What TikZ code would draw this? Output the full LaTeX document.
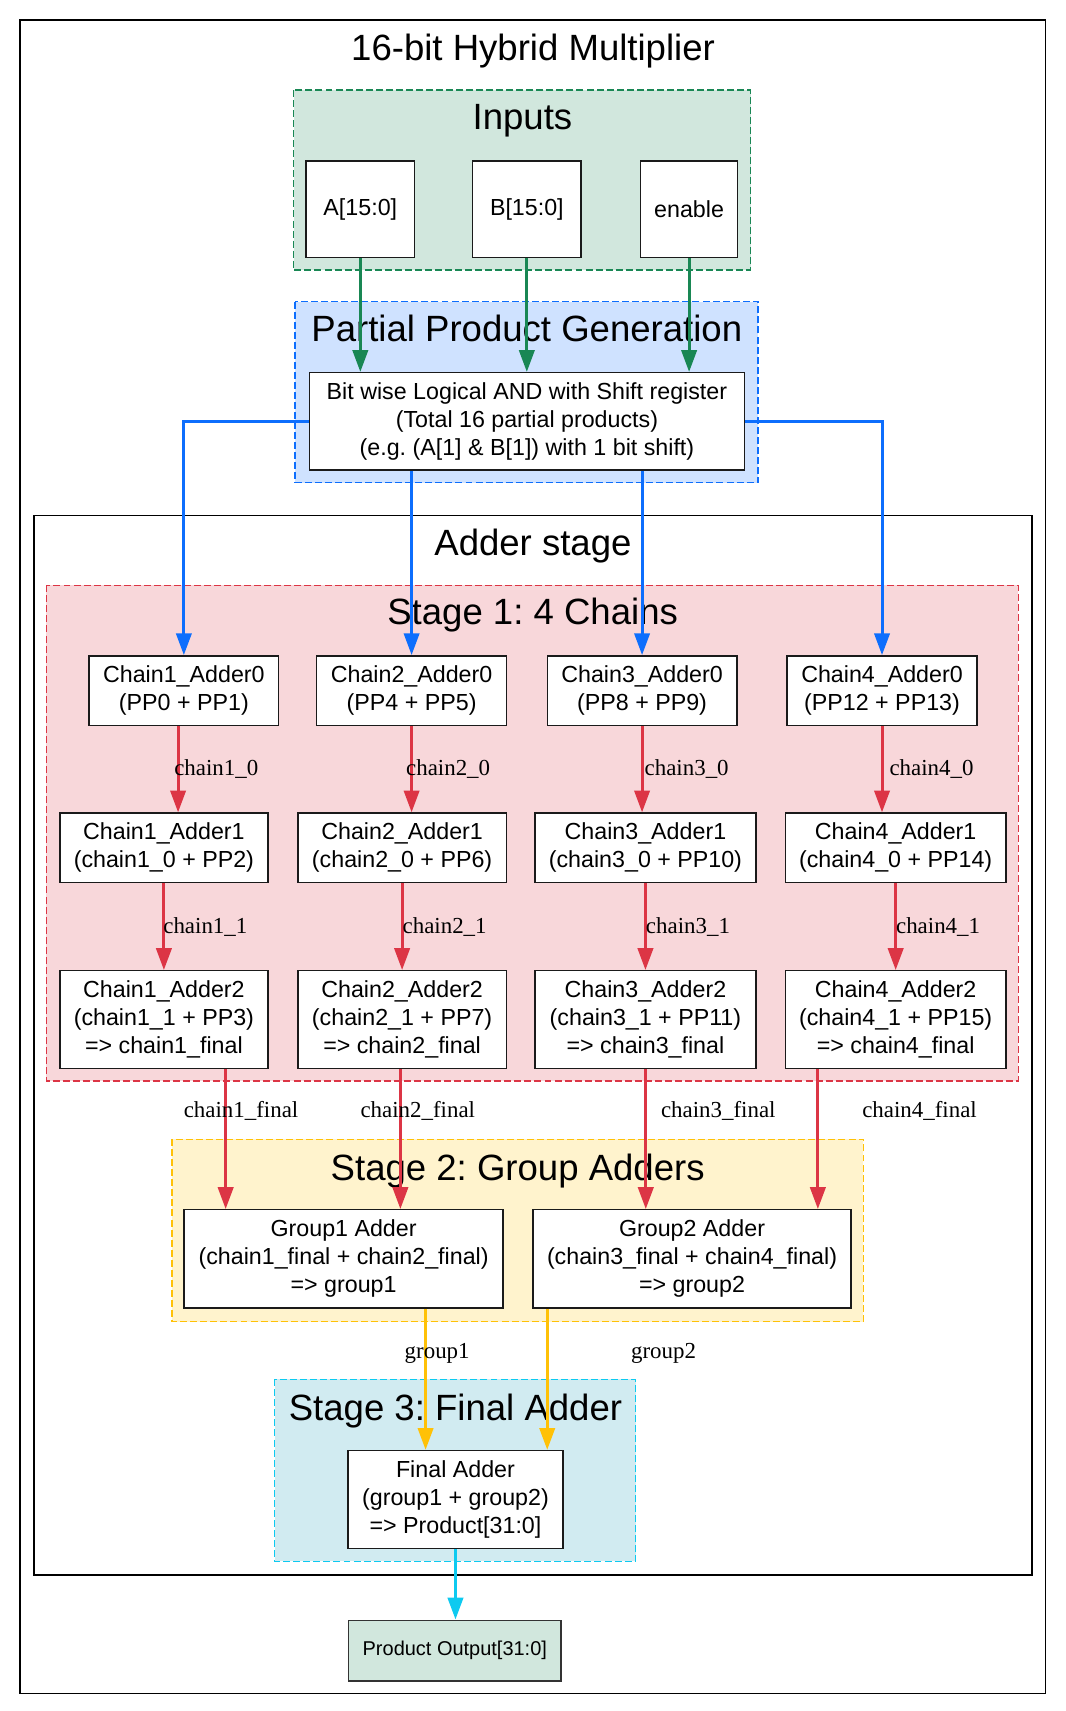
\documentclass[tikz,border=0pt]{standalone}
\usepackage{fontspec}
\setmainfont{Liberation Sans}
\newfontfamily\edgefont{Liberation Serif}
\usetikzlibrary{arrows.meta}
\frenchspacing
\definecolor{gfill}{HTML}{D1E7DD}
\definecolor{gline}{HTML}{198754}
\definecolor{bfill}{HTML}{CFE2FF}
\definecolor{bline}{HTML}{0D6EFD}
\definecolor{rfill}{HTML}{F8D7DA}
\definecolor{rline}{HTML}{DC3545}
\definecolor{yfill}{HTML}{FFF3CD}
\definecolor{yline}{HTML}{FFC107}
\definecolor{cfill}{HTML}{D1EBF1}
\definecolor{cline}{HTML}{0DCAF0}
\definecolor{nline}{HTML}{1A1A1A}
\begin{document}
\frenchspacing
\begin{tikzpicture}[x=1pt,y=-1pt,
  box/.style={draw=nline, line width=1.3pt, fill=white, inner sep=0pt, align=center,
    font={\fontsize{21.3}{25.7}\selectfont}},
  clus/.style={line width=1.3pt, dash pattern=on 6.4pt off 2.8pt},
  ctitle/.style={font={\fontsize{33.5}{40}\selectfont}, anchor=base, inner sep=0pt},
  elabel/.style={font={\edgefont\fontsize{21}{25}\selectfont}, anchor=base west, inner sep=0pt},
  arr/.style={line width=2.8pt, -{Triangle[length=20pt,width=14pt]}},
]
\useasboundingbox (0,0) rectangle (976,1568);
% ---------- clusters ----------
\draw[line width=1.5pt, black] (18.5,18.3) rectangle (958.1,1551.9);
\draw[clus, fill=gfill, draw=gline] (269.1,82.5) rectangle (687.8,247.4);
\draw[clus, fill=bfill, draw=bline] (270.4,276.5) rectangle (694.7,442.3);
\draw[line width=1.3pt, black, fill=white] (31.1,472.2) rectangle (945.7,1443.5);
\draw[clus, fill=rfill, draw=rline] (42.4,536.4) rectangle (933.3,990.6);
\draw[clus, fill=yfill, draw=yline] (157.6,1044) rectangle (791.2,1211.2);
\draw[clus, fill=cfill, draw=cline] (251.7,1264) rectangle (582.5,1430.9);
% ---------- titles ----------
\node[ctitle] (t0) at (488.5,55) {16-bit Hybrid Multiplier};
\node[ctitle] (t1) at (478.8,119) {Inputs};
\node[ctitle] (t2) at (482.8,313) {Partial Product Generation};
\node[ctitle] (t3) at (488.4,509) {Adder stage};
\node[ctitle] (t4) at (488.1,572) {Stage 1: 4 Chains};
\node[ctitle] (t5) at (474.4,1081.5) {Stage 2: Group Adders};
\node[ctitle] (t6) at (417.4,1301.7) {Stage 3: Final Adder};
% ---------- nodes ----------
\node[box, minimum width=99.7pt, minimum height=88.3pt] (a) at (330.2,191.7) {A[15:0]};
\node[box, minimum width=99.6pt, minimum height=88.3pt] (b) at (482.8,191.7) {B[15:0]};
\node[box, minimum width=89pt, minimum height=88.3pt] (en) at (631.5,191.7) {enable};
\node[box, minimum width=398.7pt, minimum height=89.2pt] (pp) at (482.9,386.1)
  {Bit wise Logical AND with Shift register\\(Total 16 partial products)\\(e.g. (A[1] \& B[1]) with 1 bit shift)};
% row 1
\node[box, minimum width=173.8pt, minimum height=64pt] (c1a0) at (168.5,633) {Chain1\_Adder0\\(PP0 + PP1)};
\node[box, minimum width=173.8pt, minimum height=64pt] (c2a0) at (377.2,633) {Chain2\_Adder0\\(PP4 + PP5)};
\node[box, minimum width=173.8pt, minimum height=64pt] (c3a0) at (588.4,633) {Chain3\_Adder0\\(PP8 + PP9)};
\node[box, minimum width=173.8pt, minimum height=64pt] (c4a0) at (808.3,633) {Chain4\_Adder0\\(PP12 + PP13)};
% row 2
\node[box, minimum width=190.7pt, minimum height=63.8pt] (c1a1) at (150.2,777) {Chain1\_Adder1\\(chain1\_0 + PP2)};
\node[box, minimum width=191.2pt, minimum height=63.8pt] (c2a1) at (368.5,777) {Chain2\_Adder1\\(chain2\_0 + PP6)};
\node[box, minimum width=202.5pt, minimum height=63.8pt] (c3a1) at (591.5,777) {Chain3\_Adder1\\(chain3\_0 + PP10)};
\node[box, minimum width=202.4pt, minimum height=63.8pt] (c4a1) at (820.8,777) {Chain4\_Adder1\\(chain4\_0 + PP14)};
% row 3
\node[box, minimum width=190.7pt, minimum height=89.4pt] (c1a2) at (150.2,934.3) {Chain1\_Adder2\\(chain1\_1 + PP3)\\=> chain1\_final};
\node[box, minimum width=191.2pt, minimum height=89.4pt] (c2a2) at (368.5,934.3) {Chain2\_Adder2\\(chain2\_1 + PP7)\\=> chain2\_final};
\node[box, minimum width=202.5pt, minimum height=89.4pt] (c3a2) at (591.5,934.3) {Chain3\_Adder2\\(chain3\_1 + PP11)\\=> chain3\_final};
\node[box, minimum width=202.4pt, minimum height=89.4pt] (c4a2) at (820.8,934.3) {Chain4\_Adder2\\(chain4\_1 + PP15)\\=> chain4\_final};
% stage 2
\node[box, minimum width=292.2pt, minimum height=90.1pt] (g1) at (314.9,1153.7) {Group1 Adder\\(chain1\_final + chain2\_final)\\=> group1};
\node[box, minimum width=291.6pt, minimum height=90.1pt] (g2) at (634.2,1153.7) {Group2 Adder\\(chain3\_final + chain4\_final)\\=> group2};
% stage 3
\node[box, minimum width=196.8pt, minimum height=89.8pt] (fa) at (417.4,1374.2) {Final Adder\\(group1 + group2)\\=> Product[31:0]};
% output
\node[box, fill=gfill, draw=black!80, minimum width=194.4pt, minimum height=55.6pt,
  font={\fontsize{18.3}{22}\selectfont}] (po) at (416.8,1512.6) {Product Output[31:0]};
% ---------- helper coordinates ----------
\coordinate (k1) at (163.2,0);
\coordinate (f1) at (206.8,0);
\coordinate (f2) at (366.9,0);
\coordinate (f3) at (591.8,0);
\coordinate (f4) at (749.5,0);
\coordinate (q1) at (390,0);
\coordinate (q2) at (501.5,0);
% ---------- edges ----------
\draw[arr, gline] (a.south) -- (a.south |- pp.north);
\draw[arr, gline] (b.south) -- (b.south |- pp.north);
\draw[arr, gline] (en.south) -- (en.south |- pp.north);
\draw[arr, bline] (pp.west) -| (c1a0.north);
\draw[arr, bline] (c2a0.north |- pp.south) -- (c2a0.north);
\draw[arr, bline] (c3a0.north |- pp.south) -- (c3a0.north);
\draw[arr, bline] (pp.east) -| (c4a0.north);
\draw[arr, rline] (c1a0.south -| k1) -- (c1a1.north -| k1);
\draw[arr, rline] (c2a0.south) -- (c2a0.south |- c2a1.north);
\draw[arr, rline] (c3a0.south) -- (c3a0.south |- c3a1.north);
\draw[arr, rline] (c4a0.south) -- (c4a0.south |- c4a1.north);
\draw[arr, rline] (c1a1.south) -- (c1a2.north);
\draw[arr, rline] (c2a1.south) -- (c2a2.north);
\draw[arr, rline] (c3a1.south) -- (c3a2.north);
\draw[arr, rline] (c4a1.south) -- (c4a2.north);
\draw[arr, rline] (c1a2.south -| f1) -- (g1.north -| f1);
\draw[arr, rline] (c2a2.south -| f2) -- (g1.north -| f2);
\draw[arr, rline] (c3a2.south -| f3) -- (g2.north -| f3);
\draw[arr, rline] (c4a2.south -| f4) -- (g2.north -| f4);
\draw[arr, yline] (g1.south -| q1) -- (fa.north -| q1);
\draw[arr, yline] (g2.south -| q2) -- (fa.north -| q2);
\draw[arr, cline] (fa.south) -- (fa.south |- po.north);
% ---------- edge labels ----------
\node[elabel] (l10) at (159.5,711) {chain1\_0};
\node[elabel] (l20) at (372,711) {chain2\_0};
\node[elabel] (l30) at (590.6,711) {chain3\_0};
\node[elabel] (l40) at (815,711) {chain4\_0};
\node[elabel] (l11) at (149.5,855.6) {chain1\_1};
\node[elabel] (l21) at (368.8,855.6) {chain2\_1};
\node[elabel] (l31) at (591.8,855.6) {chain3\_1};
\node[elabel] (l41) at (821,855.6) {chain4\_1};
\node[elabel] (lf1) at (168.2,1024.2) {chain1\_final};
\node[elabel] (lf2) at (330.2,1024.2) {chain2\_final};
\node[elabel] (lf3) at (605.6,1024.2) {chain3\_final};
\node[elabel] (lf4) at (790,1024.2) {chain4\_final};
\node[elabel] (lg1) at (370.7,1245) {group1};
\node[elabel] (lg2) at (578.2,1245) {group2};
\end{tikzpicture}
\end{document}
